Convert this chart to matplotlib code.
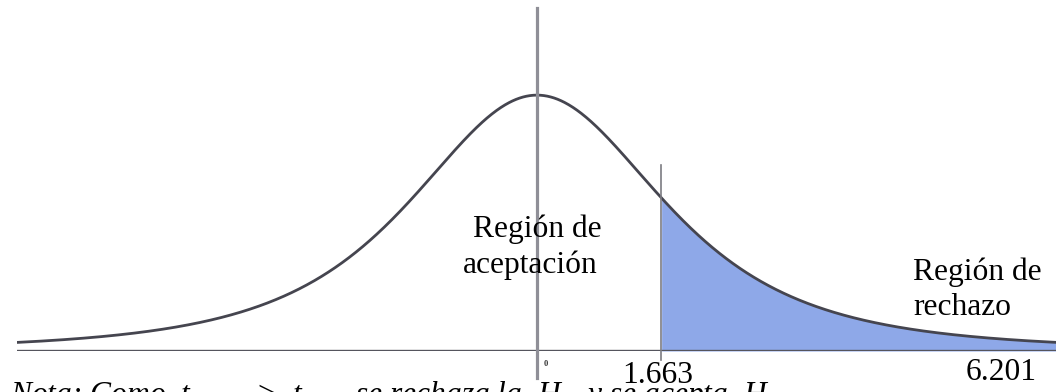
import numpy as np
import matplotlib
matplotlib.use("Agg")
import matplotlib.pyplot as plt
from matplotlib import transforms

# ---- data ----
center_value = 0
critical_value = 1.663
test_statistic = 6.201
dof = 2.5
curve_scale = 1.80
x_limits = [-6.946, 6.933]
value_labels = ["1.663", "6.201"]
acceptance_lines = ["Región de", "aceptación"]
rejection_lines = ["Región de", "rechazo"]
note_text = "Nota: Como  $t_c$       >  $t_t$      se rechaza la  $H_0$  y se acepta  $H_1$"

plt.rcParams['font.family'] = ['Liberation Serif', 'DejaVu Serif']
plt.rcParams['mathtext.fontset'] = 'custom'
plt.rcParams['mathtext.rm'] = 'Liberation Serif'
plt.rcParams['mathtext.it'] = 'Liberation Serif:italic'

W, H = 1056, 392
fig = plt.figure(figsize=(W / 100, H / 100), dpi=100)
fig.patch.set_facecolor('white')

def fx(px):
    return px / W

def fy(py):
    return (H - py) / H

ax = fig.add_axes([fx(17), fy(351), fx(1056) - fx(17), fy(8) - fy(351)])
ytop = 1 / 0.746
ax.set_xlim(*x_limits)
ax.set_ylim(0, ytop)
ax.axis('off')

x = np.linspace(x_limits[0], x_limits[1], 1500)
y = (1 + (x / curve_scale) ** 2 / dof) ** (-(dof + 1) / 2)

mask = x >= critical_value
ax.fill_between(x[mask], 0, y[mask], color='#8ea8e8', lw=0, zorder=1)
ax.plot(x, y, color='#45454f', lw=2.0, zorder=3)
ax.axhline(0, color='#55555d', lw=1.7, zorder=4)

pxu = (fy(8) - fy(351)) * H  # axes height in px
ax.plot([center_value, center_value], [-27 / pxu * ytop, ytop], color='#8f8f97',
        lw=2.3, clip_on=False, zorder=5)
ax.plot([critical_value, critical_value], [-9 / pxu * ytop, 0.542 * ytop],
        color='#7b7b82', lw=1.2, clip_on=False, zorder=5)

fs = 22.7
trans = transforms.blended_transform_factory(ax.transData, fig.transFigure)
off = transforms.ScaledTranslation(-4 / 100, 0, fig.dpi_scale_trans)
ax.text(critical_value, fy(383), value_labels[0], transform=trans + off,
        ha='center', va='baseline', fontsize=fs, color='black')
ax.text(test_statistic, fy(380), value_labels[1], transform=trans,
        ha='center', va='baseline', fontsize=fs, color='black')
ax.text(center_value, fy(366), "0",
        transform=trans + transforms.ScaledTranslation(9 / 100, 0, fig.dpi_scale_trans),
        ha='center', va='baseline', fontsize=6, fontweight='bold', color='#333333')

fig.text(fx(473), fy(237), acceptance_lines[0], fontsize=fs, va='baseline', ha='left')
fig.text(fx(463), fy(273), acceptance_lines[1], fontsize=fs, va='baseline', ha='left')
fig.text(fx(913), fy(280), rejection_lines[0], fontsize=fs, va='baseline', ha='left')
fig.text(fx(913), fy(315), rejection_lines[1], fontsize=fs, va='baseline', ha='left')

fig.text(fx(10), fy(403), note_text, fontsize=fs, style='italic', va='baseline', ha='left')

fig.savefig('out.png', dpi=100, facecolor='white')
